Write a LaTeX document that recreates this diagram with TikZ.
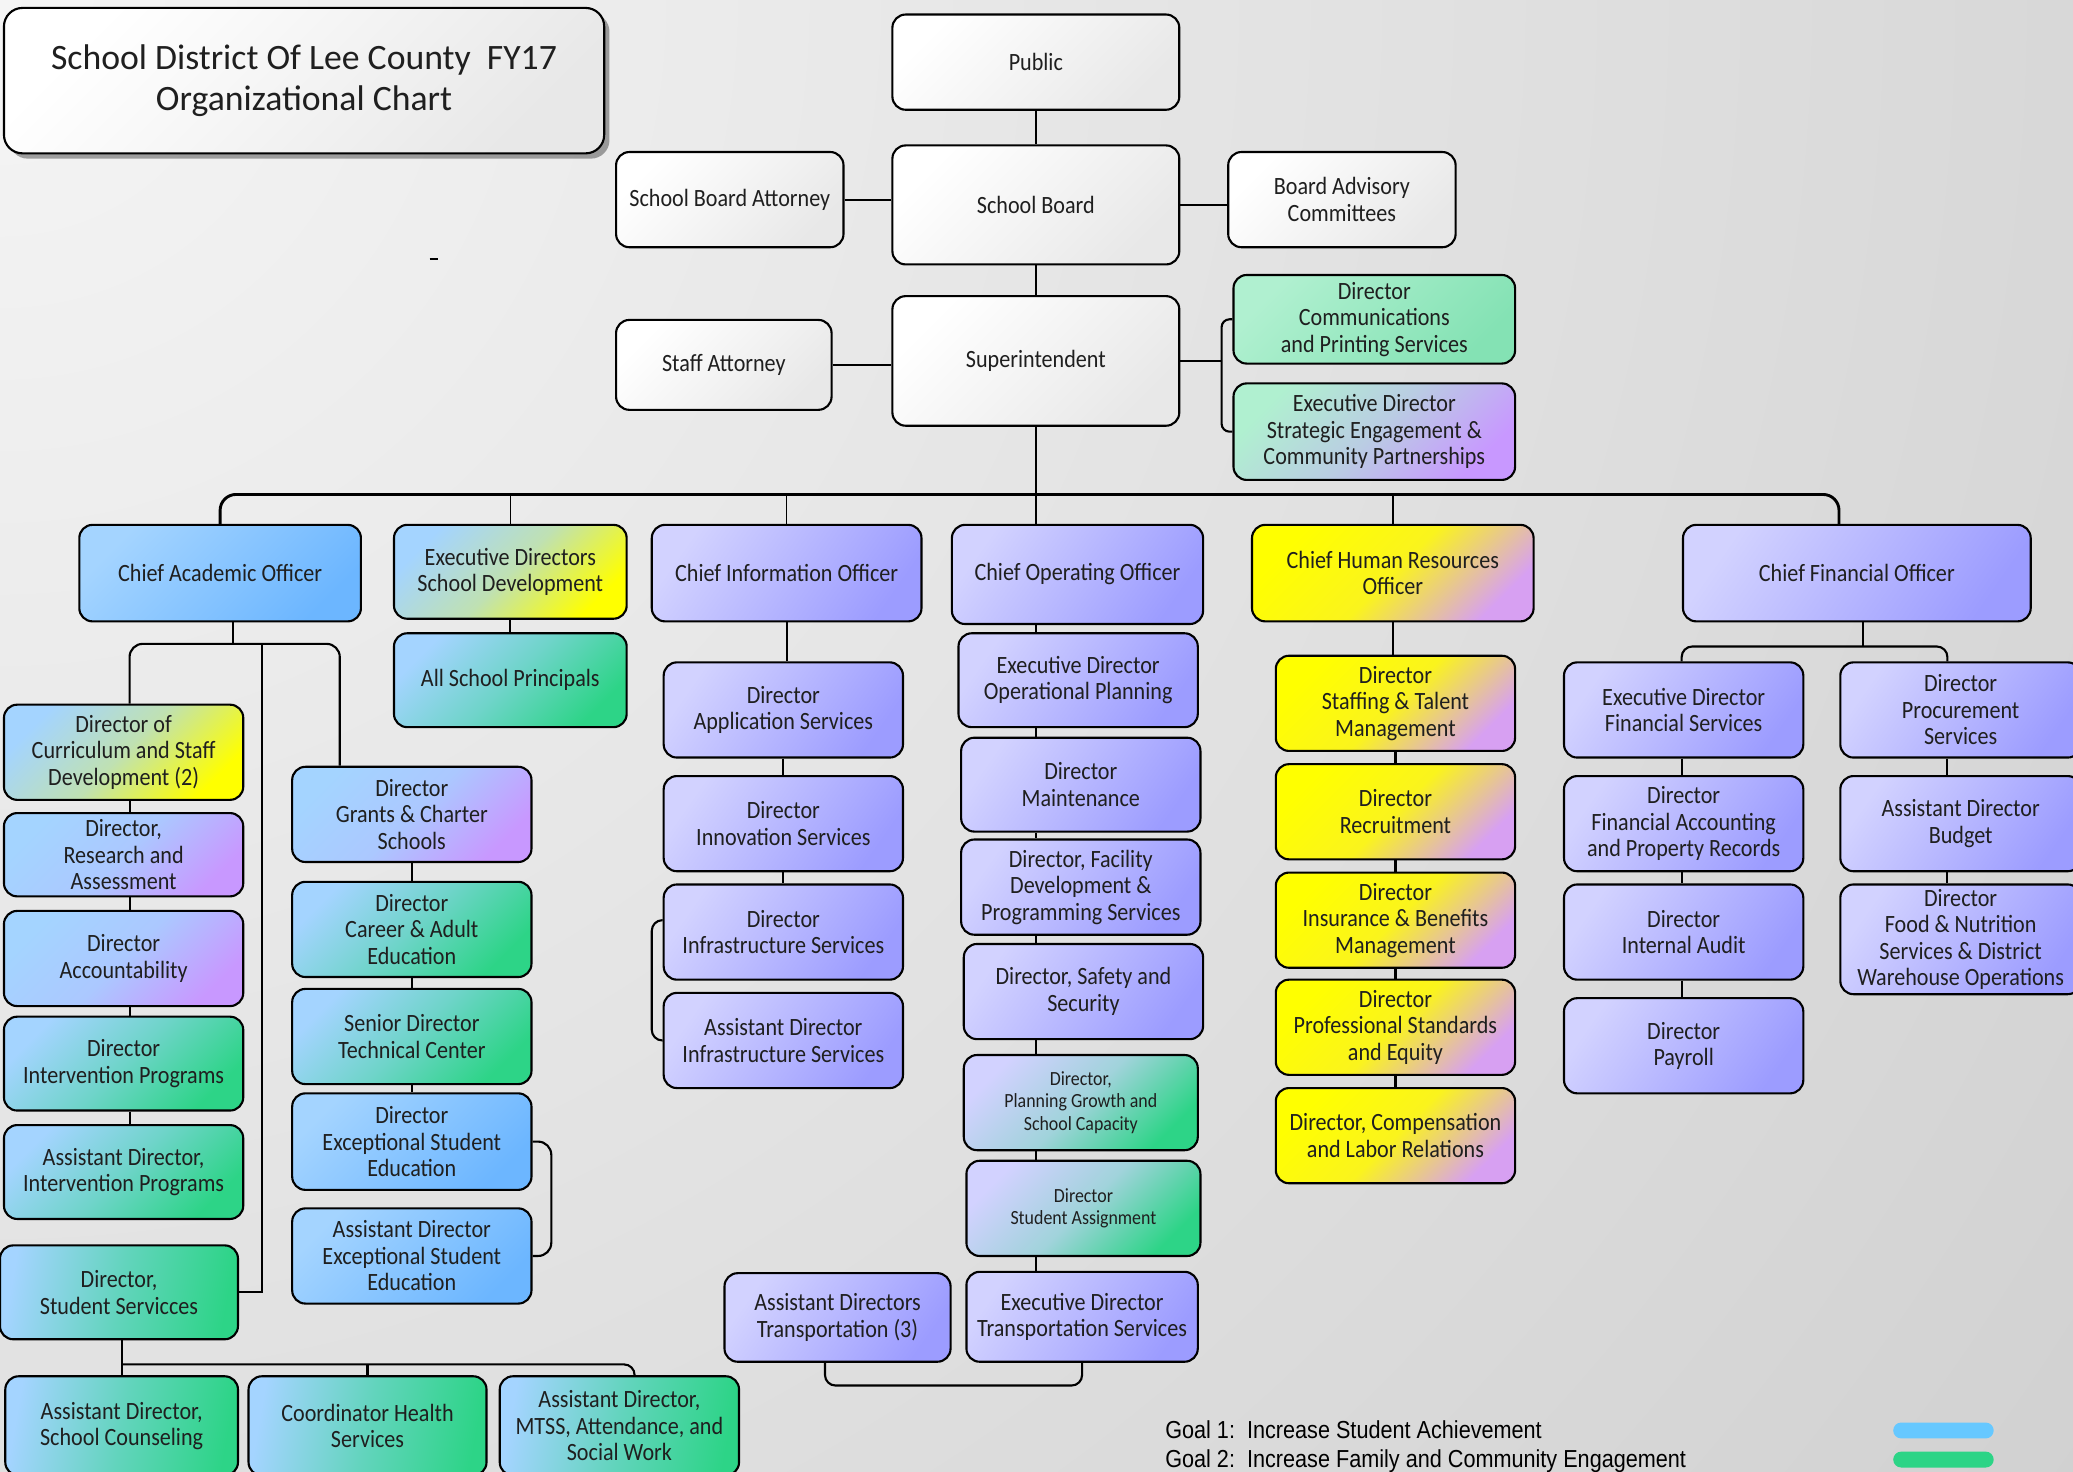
\documentclass[tikz,border=0pt]{standalone}
\usepackage{fontspec}
\setmainfont{Carlito}[FakeStretch=0.89]
\newfontfamily\titlefont{Carlito}
\newfontfamily\legendfont{Liberation Sans}[FakeStretch=0.88]
\usetikzlibrary{shadows}
\definecolor{bluL}{HTML}{A4D4FF}
\definecolor{bluD}{HTML}{6CB6FF}
\definecolor{lavL}{HTML}{D2D2FF}
\definecolor{lavD}{HTML}{9C9CFF}
\definecolor{grn}{HTML}{2DD487}
\definecolor{yel}{HTML}{FFFF00}
\definecolor{pur}{HTML}{C898FF}
\definecolor{pnk}{HTML}{D7A0F2}
\definecolor{grnL}{HTML}{B0F0D0}
\definecolor{grnD}{HTML}{84E2B4}
\definecolor{pillB}{HTML}{66C8FF}
\definecolor{pillG}{HTML}{2CD486}
\tikzset{
 box/.style={draw=black, line width=0.8pt, rounded corners=5pt, align=center, inner sep=1pt,
   font=\fontsize{9.4pt}{10pt}\selectfont, text=black!88},
 smalltext/.style={font=\fontsize{7.6pt}{8.6pt}\selectfont},
 wh/.style={left color=white, right color=black!9, shading angle=45},
 blu/.style={left color=bluL, right color=bluD, shading angle=45},
 bluyel/.style={left color=bluL, right color=yel, middle color=bluL!70!yel, shading angle=45},
 blupur/.style={left color=bluL, right color=pur, middle color=bluL!80!pur, shading angle=45},
 blugrn/.style={left color=bluL, right color=grn, middle color=bluL!55!grn, shading angle=45},
 blugrnh/.style={left color=bluL, right color=grn, middle color=bluL!45!grn, shading angle=80},
 lav/.style={left color=lavL, right color=lavD, shading angle=55},
 lavgrn/.style={left color=lavL, right color=grn, middle color=lavL!70!grn, shading angle=45},
 yelpur/.style={left color=yel, right color=pnk, middle color=yel!88!pnk, shading angle=45},
 grnc/.style={left color=grnL, right color=grnD, shading angle=45},
 grnpur/.style={left color=grnL, right color=pur, middle color=grnL!60!pur, shading angle=45},
 conn/.style={draw=black, line width=0.8pt},
 thinconn/.style={draw=black, line width=0.55pt},
 busline/.style={draw=black, line width=1.1pt},
 legendtext/.style={font=\legendfont\fontsize{9.3pt}{10pt}\selectfont, text=black, inner sep=0pt, anchor=base west},
 pill/.style={rounded corners=3pt, inner sep=0pt, minimum width=38pt, minimum height=6pt}
}
\newcommand\bx[7]{%
 \pgfmathsetmacro\bxcx{(#2+#4)/2}\pgfmathsetmacro\bxcy{(#3+#5)/2}%
 \pgfmathsetmacro\bxw{(#4-#2)*0.5}\pgfmathsetmacro\bxh{(#5-#3)*0.5}%
 \node[box,#6,minimum width=\bxw pt,minimum height=\bxh pt] (#1) at (\bxcx,\bxcy) {#7};}
\begin{document}
\begin{tikzpicture}[x=0.5pt,y=-0.5pt]
\useasboundingbox (0,0) rectangle (1568,1113);
\clip (0,0) rectangle (1568,1113);
\shade[inner color=white!96!black, outer color=black!25] (0,0) circle [radius=2900];
% top part
\bx{title}{3}{6}{457}{116}{wh, rounded corners=7pt, drop shadow={shadow xshift=2pt, shadow yshift=-2pt, opacity=0.35, fill=black}, font=\titlefont\fontsize{13.5pt}{15.5pt}\selectfont}{School District Of Lee County\ \ FY17\\Organizational Chart}
\draw[line width=0.6pt] (325,196) -- (331,196);
\bx{public}{675}{11}{892}{83}{wh}{Public}
\bx{board}{675}{110}{892}{200}{wh}{School Board}
\bx{sba}{466}{115}{638}{187}{wh}{School Board Attorney}
\bx{bac}{929}{115}{1101}{187}{wh}{Board Advisory\\Committees}
\bx{sup}{675}{224}{892}{322}{wh}{Superintendent}
\bx{sta}{466}{242}{629}{310}{wh}{Staff Attorney}
\bx{comm}{933}{208}{1146}{275}{grnc}{Director\\Communications\\and Printing Services}
\bx{seng}{933}{290}{1146}{363}{grnpur}{Executive Director\\Strategic Engagement \&\\Community Partnerships}
% chiefs
\bx{cao}{60}{397}{273}{470}{blu}{Chief Academic Officer}
\bx{eds}{298}{397}{474}{468}{bluyel}{Executive Directors\\School Development}
\bx{asp}{298}{479}{474}{550}{blugrn}{All School Principals}
\bx{cio}{493}{397}{697}{470}{lav}{Chief Information Officer}
\bx{coo}{720}{397}{910}{472}{lav}{Chief Operating Officer}
\bx{chro}{947}{397}{1160}{470}{yelpur}{Chief Human Resources\\Officer}
\bx{cfo}{1273}{397}{1536}{470}{lav}{Chief Financial Officer}
% academic
\bx{cur}{3}{533}{184}{605}{bluyel}{Director of\\Curriculum and Staff\\Development (2)}
\bx{res}{3}{615}{184}{678}{blupur}{Director,\\Research and\\Assessment}
\bx{acc}{3}{689}{184}{761}{blupur}{Director\\Accountability}
\bx{int}{3}{769}{184}{840}{blugrn}{Director\\Intervention Programs}
\bx{aint}{3}{851}{184}{922}{blugrn}{Assistant Director,\\Intervention Programs}
\bx{ss}{0}{942}{180}{1013}{blugrnh}{Director,\\Student Servicces}
\bx{sc}{4}{1041}{180}{1116}{blugrnh}{Assistant Director,\\School Counseling}
\bx{chs}{188}{1041}{368}{1116}{blugrnh}{Coordinator Health\\Services}
\bx{mtss}{378}{1041}{559}{1116}{blugrnh}{Assistant Director,\\MTSS, Attendance, and\\Social Work}
\bx{grants}{221}{580}{402}{652}{blupur}{Director\\Grants \& Charter\\Schools}
\bx{career}{221}{667}{402}{739}{blugrn}{Director\\Career \& Adult\\Education}
\bx{tech}{221}{748}{402}{820}{blugrn}{Senior Director\\Technical Center}
\bx{ese}{221}{827}{402}{900}{blu}{Director\\Exceptional Student\\Education}
\bx{aese}{221}{914}{402}{986}{blu}{Assistant Director\\Exceptional Student\\Education}
% information
\bx{app}{502}{501}{683}{573}{lav}{Director\\Application Services}
\bx{inn}{502}{587}{683}{659}{lav}{Director\\Innovation Services}
\bx{inf}{502}{669}{683}{741}{lav}{Director\\Infrastructure Services}
\bx{ainf}{502}{751}{683}{823}{lav}{Assistant Director\\Infrastructure Services}
% operating
\bx{eop}{725}{479}{906}{550}{lav}{Executive Director\\Operational Planning}
\bx{mnt}{727}{558}{908}{629}{lav}{Director\\Maintenance}
\bx{fac}{727}{635}{908}{707}{lav}{Director, Facility\\Development \&\\Programming Services}
\bx{saf}{729}{714}{910}{786}{lav}{Director, Safety and\\Security}
\bx{pgs}{729}{798}{906}{870}{lavgrn, smalltext}{Director,\\Planning Growth and\\School Capacity}
\bx{sas}{731}{878}{908}{950}{lavgrn, smalltext}{Director\\Student Assignment}
\bx{ets}{731}{962}{906}{1030}{lav}{Executive Director\\Transportation Services}
\bx{adt}{548}{963}{719}{1030}{lav}{Assistant Directors\\Transportation (3)}
% human resources
\bx{stm}{965}{496}{1146}{568}{yelpur}{Director\\Staffing \& Talent\\Management}
\bx{rec}{965}{578}{1146}{650}{yelpur}{Director\\Recruitment}
\bx{ins}{965}{660}{1146}{732}{yelpur}{Director\\Insurance \& Benefits\\Management}
\bx{pse}{965}{741}{1146}{813}{yelpur}{Director\\Professional Standards\\and Equity}
\bx{clr}{965}{823}{1146}{895}{yelpur}{Director, Compensation\\and Labor Relations}
% financial
\bx{efs}{1183}{501}{1364}{573}{lav}{Executive Director\\Financial Services}
\bx{fap}{1183}{587}{1364}{659}{lav}{Director\\Financial Accounting\\and Property Records}
\bx{ia}{1183}{669}{1364}{741}{lav}{Director\\Internal Audit}
\bx{pay}{1183}{755}{1364}{827}{lav}{Director\\Payroll}
\bx{proc}{1392}{501}{1574}{573}{lav}{Director\\Procurement\\Services}
\bx{bud}{1392}{587}{1574}{659}{lav}{Assistant Director\\Budget}
\bx{food}{1392}{669}{1574}{752}{lav}{Director\\Food \& Nutrition\\Services \& District\\Warehouse Operations}
% helper coordinates
\coordinate (cbr) at (924,278);
\coordinate (bus) at (784,374);
\coordinate (cfod) at (1391,397);
\coordinate (acm) at (198,487);
\coordinate (acl) at (98,487);
\coordinate (acr) at (257,487);
\coordinate (acd) at (176,487);
\coordinate (ssbus) at (92,1032);
\coordinate (mtd) at (480,1041);
\coordinate (eseb) at (417,900);
\coordinate (infb) at (493,740);
\coordinate (tl) at (624,1048);
\coordinate (cfbL) at (1272,489);
\coordinate (cfbR) at (1473,489);
\coordinate (cfbM) at (1409,489);
% top connectors
\draw[thinconn] (public.south) -- (board.north);
\draw[thinconn] (board.south) -- (sup.north);
\draw[conn] (sba.east) -- (sba.east -| board.west);
\draw[conn] (board.east) -- (board.east -| bac.west);
\draw[conn] (sta.east) -- (sta.east -| sup.west);
\draw[conn] (sup.east) -- (sup.east -| cbr);
\draw[conn, rounded corners=3pt] (comm.west) -- (comm.west -| cbr) -- (seng.west -| cbr) -- (seng.west);
% main bus
\draw[thinconn] (sup.south) -- (sup.south |- coo.north);
\draw[busline, rounded corners=6pt] (cao.north) -- (cao.north |- bus) -- (cfod |- bus) -- (cfod);
\draw[thinconn] (eds.north) -- (eds.north |- bus);
\draw[thinconn] (cio.north) -- (cio.north |- bus);
\draw[thinconn] (chro.north) -- (chro.north |- bus);
\draw[conn] (eds.south) -- (eds.south |- asp.north);
% academic
\draw[conn] (acd |- cao.south) -- (acd);
\draw[conn, rounded corners=5pt] (acl |- cur.north) -- (acl) -- (acr) -- (acr |- grants.north);
\draw[conn] (acm) -- (acm |- ss.east) -- (ss.east);
\draw[conn] (acl |- cur.south) -- (acl |- res.north);
\draw[conn] (acl |- res.south) -- (acl |- acc.north);
\draw[conn] (acl |- acc.south) -- (acl |- int.north);
\draw[conn] (acl |- int.south) -- (acl |- aint.north);
\draw[conn] (grants.south) -- (career.north);
\draw[conn] (career.south) -- (tech.north);
\draw[conn] (tech.south) -- (ese.north);
\draw[conn, rounded corners=5pt] (ese.east) -- (ese.east -| eseb) -- (aese.east -| eseb) -- (aese.east);
\draw[conn] (ss.south -| ssbus) -- (ssbus |- sc.north);
\draw[conn, rounded corners=4pt] (ssbus) -- (ssbus -| mtd) -- (mtd);
\draw[conn] (chs.north) -- (chs.north |- ssbus);
% information
\draw[conn] (cio.south) -- (cio.south |- app.north);
\draw[conn] (app.south) -- (inn.north);
\draw[conn] (inn.south) -- (inf.north);
\draw[conn, rounded corners=4pt] ([yshift=4.5pt]inf.west) -- ([yshift=4.5pt]inf.west -| infb) -- (ainf.west -| infb) -- (ainf.west);
% operating
\draw[conn] (sup.south |- coo.south) -- (sup.south |- eop.north);
\draw[conn] (sup.south |- eop.south) -- (sup.south |- mnt.north);
\draw[conn] (sup.south |- mnt.south) -- (sup.south |- fac.north);
\draw[conn] (sup.south |- fac.south) -- (sup.south |- saf.north);
\draw[conn] (sup.south |- saf.south) -- (sup.south |- pgs.north);
\draw[conn] (sup.south |- pgs.south) -- (sup.south |- sas.north);
\draw[conn] (sup.south |- sas.south) -- (sup.south |- ets.north);
\draw[conn, rounded corners=4pt] (ets.south) -- (ets.south |- tl) -- (tl) -- (tl |- adt.south);
% human resources
\draw[conn] (chro.south) -- (chro.south |- stm.north);
\draw[conn] (stm.south) -- (rec.north);
\draw[conn] (rec.south) -- (ins.north);
\draw[conn] (ins.south) -- (pse.north);
\draw[conn] (pse.south) -- (clr.north);
% financial
\draw[conn] (cfbM |- cfo.south) -- (cfbM);
\draw[conn, rounded corners=4pt] (cfbL |- efs.north) -- (cfbL) -- (cfbR) -- (cfbR |- proc.north);
\draw[conn] (cfbL |- efs.south) -- (cfbL |- fap.north);
\draw[conn] (cfbL |- fap.south) -- (cfbL |- ia.north);
\draw[conn] (cfbL |- ia.south) -- (cfbL |- pay.north);
\draw[conn] (cfbR |- proc.south) -- (cfbR |- bud.north);
\draw[conn] (cfbR |- bud.south) -- (cfbR |- food.north);
% legend
\node[legendtext] (g1) at (881,1088) {Goal 1:\ \ Increase Student Achievement};
\node[legendtext] (g2) at (881,1110) {Goal 2:\ \ Increase Family and Community Engagement};
\node[pill, fill=pillB] (p1) at (1470,1082) {};
\node[pill, fill=pillG] (p2) at (1470,1104) {};
\end{tikzpicture}
\end{document}
